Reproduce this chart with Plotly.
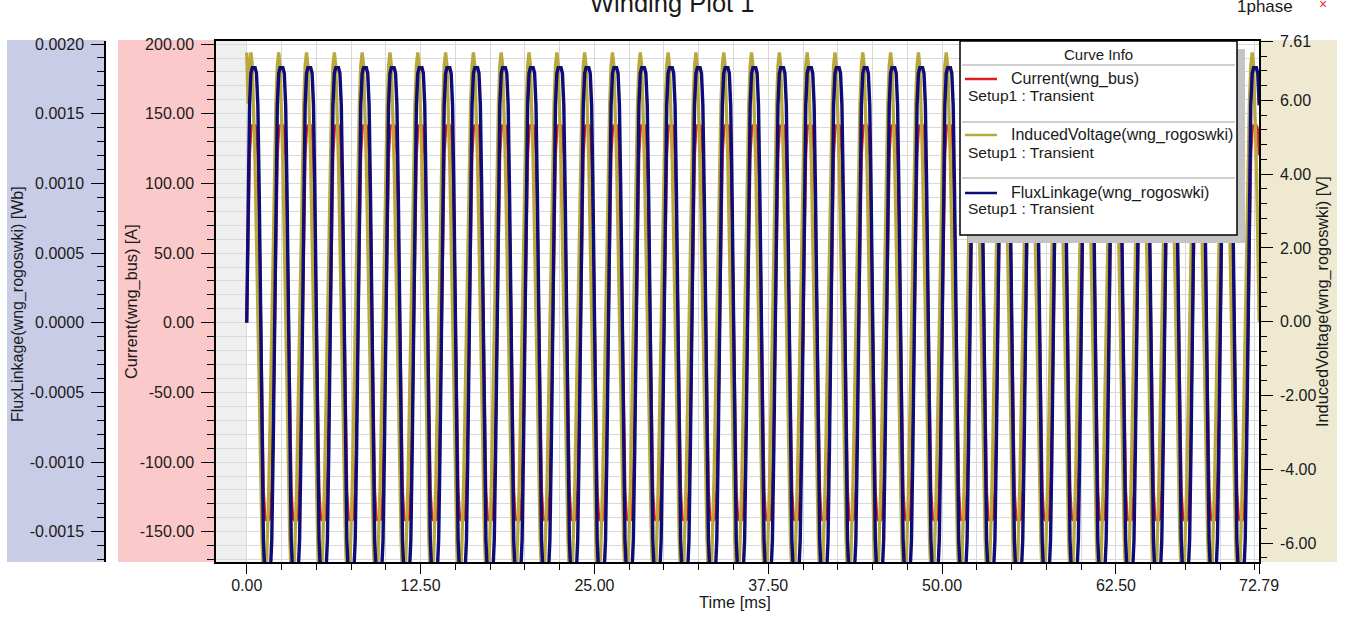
import numpy as np
import plotly.graph_objects as go

W, H = 1352, 617
PL, PR, PT, PB = 216, 1259, 41, 562   # plot area in pixels


def px(x):
    return x / W


def py(y):
    return (PB - y) / (PB - PT)


FONT = "Liberation Sans, Arial, sans-serif"
TXT = "#1a1a1a"

# ---------------- data ----------------
time_step_ms = 0.1
end_time_ms = 72.79

# one period (2 ms) of each waveform, sampled every 0.1 ms
current_cycle_A = [0.0, 70.7, 120.2, 138.6, 141.4, 141.4, 141.4, 138.6, 120.2, 70.7,
                   0.0, -70.7, -120.2, -138.6, -141.4, -141.4, -141.4, -138.6, -120.2, -70.7]
flux_cycle_Wb = [0.0, 0.000915, 0.00156, 0.00179, 0.00183, 0.00183, 0.00183, 0.00179, 0.00156, 0.000915,
                 0.0, -0.000915, -0.00156, -0.00179, -0.00183, -0.00183, -0.00183, -0.00179, -0.00156, -0.000915]
voltage_cycle_V = [4.29, 5.91, 6.94, 7.30, 6.94, 5.91, 4.29, 2.26, 0.0, -2.26,
                   -4.29, -5.91, -6.94, -7.30, -6.94, -5.91, -4.29, -2.26, 0.0, 2.26]
voltage_first_V = 7.30   # value at t = 0

x_ticks = [0.0, 12.5, 25.0, 37.5, 50.0, 62.5, 72.79]
current_ticks = [-150, -100, -50, 0, 50, 100, 150, 200]
flux_ticks = [-0.0015, -0.0010, -0.0005, 0.0, 0.0005, 0.0010, 0.0015, 0.0020]
voltage_ticks = [-6.0, -4.0, -2.0, 0.0, 2.0, 4.0, 6.0, 7.61]

x_range = [-2.21, 72.79]
current_range = [-171.7, 202.2]
flux_range = [-0.001717, 0.0020215]
voltage_range = [-6.514, 7.61]

legend_names = ["Current(wng_bus)", "InducedVoltage(wng_rogoswki)", "FluxLinkage(wng_rogoswki)"]
legend_sub = "Setup1 : Transient"
colors = ["#e01e1e", "#b9a83a", "#0d0c78"]

# ---------------- build series ----------------
n = int(round(end_time_ms / time_step_ms)) + 1
reps = n // len(current_cycle_A) + 1
t = np.arange(n) * time_step_ms
current = np.tile(current_cycle_A, reps)[:n]
flux = np.tile(flux_cycle_Wb, reps)[:n]
voltage = np.tile(voltage_cycle_V, reps)[:n]
voltage[0] = voltage_first_V


def fmt(v, d):
    return f"{v:.{d}f}"


fig = go.Figure()
fig.add_trace(go.Scatter(x=t, y=current, mode="lines", yaxis="y",
                         line=dict(color=colors[0], width=3), name=legend_names[0]))
fig.add_trace(go.Scatter(x=t, y=voltage, mode="lines", yaxis="y2",
                         line=dict(color=colors[1], width=3.3), name=legend_names[1]))
fig.add_trace(go.Scatter(x=t, y=flux, mode="lines", yaxis="y3",
                         line=dict(color=colors[2], width=3.4), name=legend_names[2]))

tickfont = dict(family=FONT, size=16, color=TXT)
grid = "#d9d9d9"

fig.update_layout(
    width=W, height=H, autosize=False,
    margin=dict(l=0, r=0, t=PT, b=H - PB, pad=0),
    paper_bgcolor="white", plot_bgcolor="white",
    showlegend=False,
    xaxis=dict(domain=[PL / W, PR / W], range=x_range, tickmode="array",
               tickvals=x_ticks, ticktext=[fmt(v, 2) for v in x_ticks],
               ticks="outside", ticklen=10, tickcolor="black", tickwidth=1,
               showline=True, linecolor="black", linewidth=1.5, mirror=True,
               showgrid=True, gridcolor=grid, zeroline=False,
               minor=dict(tick0=0, dtick=2.5, ticks="outside", ticklen=6,
                          tickcolor="black", showgrid=True, gridcolor=grid),
               tickfont=tickfont, automargin=False, ticklabelstandoff=-2),
    yaxis=dict(range=current_range, anchor="x", side="left", tickmode="array",
               tickvals=current_ticks, ticktext=[fmt(v, 2) for v in current_ticks],
               ticks="outside", ticklen=13, tickcolor="black",
               showline=True, linecolor="black", linewidth=1.5,
               showgrid=True, gridcolor=grid, zeroline=False,
               minor=dict(tick0=0, dtick=10, ticks="outside", ticklen=7,
                          tickcolor="black", showgrid=True, gridcolor=grid),
               tickfont=tickfont, automargin=False, ticklabelstandoff=4),
    yaxis2=dict(range=voltage_range, overlaying="y", anchor="x", side="right",
                tickmode="array", tickvals=voltage_ticks,
                ticktext=[fmt(v, 2) for v in voltage_ticks],
                ticks="outside", ticklen=12, tickcolor="black",
                showline=True, linecolor="black", linewidth=1.5,
                showgrid=False, zeroline=False,
                minor=dict(tick0=0, dtick=0.4, ticks="outside", ticklen=6,
                           tickcolor="black"),
                tickfont=tickfont, automargin=False, ticklabelstandoff=4),
    yaxis3=dict(range=flux_range, overlaying="y", anchor="free", position=105 / W,
                side="left", tickmode="array", tickvals=flux_ticks,
                ticktext=[fmt(v, 4) for v in flux_ticks],
                ticks="outside", ticklen=13, tickcolor="black",
                showline=True, linecolor="black", linewidth=1.5,
                showgrid=False, zeroline=False,
                minor=dict(tick0=0, dtick=0.0001, ticks="outside", ticklen=7,
                           tickcolor="black"),
                tickfont=tickfont, automargin=False, ticklabelstandoff=4),
)

shapes = [
    # coloured axis panels
    dict(type="rect", xref="paper", yref="paper", x0=px(7), x1=px(105), y0=py(562), y1=py(40),
         fillcolor="#c9cce6", line=dict(width=0), layer="below"),
    dict(type="rect", xref="paper", yref="paper", x0=px(118), x1=px(216), y0=py(562), y1=py(40),
         fillcolor="#fbc9c9", line=dict(width=0), layer="below"),
    dict(type="rect", xref="paper", yref="paper", x0=px(1259), x1=px(1337), y0=py(562), y1=py(40),
         fillcolor="#eee9d0", line=dict(width=0), layer="below"),
    # region before t = 0
    dict(type="rect", xref="x", yref="paper", x0=x_range[0], x1=0, y0=0, y1=1,
         fillcolor="#efefef", line=dict(width=0), layer="below"),
    # legend shadow and box
    dict(type="rect", xref="paper", yref="paper", x0=px(968), x1=px(1245), y0=py(243), y1=py(49),
         fillcolor="#c4c4c4", line=dict(width=0), layer="above"),
    dict(type="rect", xref="paper", yref="paper", x0=px(960), x1=px(1237), y0=py(235), y1=py(41),
         fillcolor="white", line=dict(color="black", width=1.5), layer="above"),
]
for yy in [65, 122, 178]:
    shapes.append(dict(type="line", xref="paper", yref="paper", x0=px(962), x1=px(1235),
                       y0=py(yy), y1=py(yy), line=dict(color="#a0a0a0", width=1.2), layer="above"))
for yy, c in zip([79, 135, 193], colors):
    shapes.append(dict(type="line", xref="paper", yref="paper", x0=px(965), x1=px(997),
                       y0=py(yy), y1=py(yy), line=dict(color=c, width=2.5), layer="above"))
fig.update_layout(shapes=shapes)

ann = []


def add_text(text, x, y, size, xanchor="center", angle=0, color=TXT):
    ann.append(dict(text=text, x=px(x), y=py(y), xref="paper", yref="paper",
                    showarrow=False, xanchor=xanchor, yanchor="middle", textangle=angle,
                    font=dict(family=FONT, size=size, color=color)))


add_text("Curve Info", 1098, 55, 15)
for yy, name in zip([79, 135, 193], legend_names):
    add_text(name, 1009, yy, 16, xanchor="left")
for yy in [95, 152, 208]:
    add_text(legend_sub, 966, yy, 15.5, xanchor="left")

add_text("Winding Plot 1", 672, 3, 25.5)
add_text("1phase", 1265, 7, 17)
add_text("×", 1323, 4, 14, color="#e03030")
add_text("Time [ms]", 735, 602, 16.5)
add_text("FluxLinkage(wng_rogoswki) [Wb]", 18, 304, 16, angle=-90)
add_text("Current(wng_bus) [A]", 131, 302, 16.3, angle=-90)
add_text("InducedVoltage(wng_rogoswki) [V]", 1322, 302, 16.3, angle=-90)
fig.update_layout(annotations=ann)

fig.write_html("out.html", config={"displayModeBar": False},
               post_script="document.body.style.margin='0px';")
